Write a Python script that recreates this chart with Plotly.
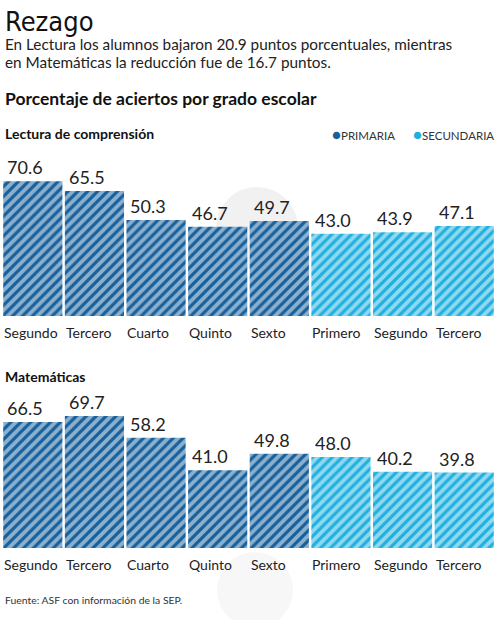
import plotly.graph_objects as go

# Datos
grados_primaria = ['Segundo', 'Tercero', 'Cuarto', 'Quinto', 'Sexto']
grados_secundaria = ['Primero', 'Segundo', 'Tercero']
lectura_primaria = [70.6, 65.5, 50.3, 46.7, 49.7]
lectura_secundaria = [43.0, 43.9, 47.1]
mate_primaria = [66.5, 69.7, 58.2, 41.0, 49.8]
mate_secundaria = [48.0, 40.2, 39.8]

AZUL = '#17609c'
CELESTE = '#1fb0e0'
TEXTO = '#222222'
FONT = 'Lato, Noto Sans, sans-serif'

W, H = 497, 620


def py(px):
    # pixel from top -> paper fraction
    return 1 - px / H


def pxx(px):
    # pixel from left -> paper fraction (plot area starts at margin l=2)
    return (px - 2) / (W - 4)


fig = go.Figure()

paneles = [
    ('x', 'y', lectura_primaria, lectura_secundaria),
    ('x2', 'y2', mate_primaria, mate_secundaria),
]

for xa, ya, prim, sec in paneles:
    for vals, cats, color, offset in [(prim, grados_primaria, AZUL, 0),
                                      (sec, grados_secundaria, CELESTE, len(grados_primaria))]:
        xs = [offset + i for i in range(len(vals))]
        fig.add_trace(go.Bar(
            x=xs, y=vals, xaxis=xa, yaxis=ya,
            marker=dict(color=color, line=dict(width=0),
                        pattern=dict(shape='/', fgcolor='white', size=7,
                                     solidity=0.55, fillmode='overlay')),
            showlegend=False, hoverinfo='skip'
        ))
        for x, v, c in zip(xs, vals, cats):
            # valor sobre la barra
            fig.add_annotation(x=x - 0.48, y=v, xref=xa, yref=ya, text=f'{v:.1f}',
                               showarrow=False, xanchor='left', yanchor='bottom',
                               xshift=2, yshift=1,
                               font=dict(family=FONT, size=18, color=TEXTO))
            # grado debajo
            fig.add_annotation(x=x - 0.48, y=0, xref=xa, yref=ya, text=c,
                               showarrow=False, xanchor='left', yanchor='top',
                               xshift=-1, yshift=-6,
                               font=dict(family=FONT, size=14, color=TEXTO))

ejes = dict(range=[-0.5, 7.5], visible=False, fixedrange=True)
fig.update_layout(
    xaxis=dict(domain=[0, 1], anchor='y', **ejes),
    xaxis2=dict(domain=[0, 1], anchor='y2', **ejes),
    yaxis=dict(domain=[py(316), py(163.2)], range=[0, 80], visible=False,
               anchor='x', fixedrange=True),
    yaxis2=dict(domain=[py(548), py(396.4)], range=[0, 80], visible=False,
                anchor='x2', fixedrange=True),
    barmode='overlay', bargap=0.04,
    width=W, height=H,
    margin=dict(l=2, r=2, t=0, b=0),
    paper_bgcolor='white', plot_bgcolor='rgba(0,0,0,0)',
)

# marca de agua tenue
for cx, cy, r, col in [(257, 228, 41, '#f1f1f1'), (255, 590, 38, '#f7f7f7')]:
    fig.add_shape(type='circle', xref='paper', yref='paper', layer='below',
                  x0=pxx(cx - r), x1=pxx(cx + r), y0=py(cy + r), y1=py(cy - r),
                  fillcolor=col, line=dict(width=0))

# Textos
textos = [
    ('Rezago', 21, 27, 'Liberation Sans Narrow, DejaVu Sans Condensed, sans-serif', '#111111'),
    ('En Lectura los alumnos bajaron 20.9 puntos porcentuales, mientras', 44, 15.3, FONT, TEXTO),
    ('en Matemáticas la reducción fue de 16.7 puntos.', 62, 15.3, FONT, TEXTO),
    ('<b>Porcentaje de aciertos por grado escolar</b>', 98, 17.5, FONT, '#111111'),
    ('<b>Lectura de comprensión</b>', 134, 14, FONT, '#111111'),
    ('<b>Matemáticas</b>', 376, 14, FONT, '#111111'),
    ('Fuente: ASF con información de la SEP.', 600, 10.4, FONT, '#333333'),
]
for t, y, s, f, c in textos:
    fig.add_annotation(x=pxx(3), y=py(y), xref='paper', yref='paper', text=t,
                       showarrow=False, xanchor='left', yanchor='middle',
                       font=dict(family=f, size=s, color=c))

# Leyenda (anclada por la derecha)
for t, x, c in [('PRIMARIA', 396, AZUL), ('SECUNDARIA', 495, CELESTE)]:
    fig.add_annotation(x=pxx(x), y=py(134), xref='paper', yref='paper',
                       text=f"<span style='color:{c};font-size:15px'>●</span>{t}",
                       showarrow=False, xanchor='right', yanchor='middle',
                       borderpad=0,
                       font=dict(family=FONT, size=11.5, color='#333333'))

# quitar el margen por defecto del body para que la figura ocupe la ventana
fig.write_html('out.html', config={'displayModeBar': False},
               post_script="document.body.style.margin='0';")
